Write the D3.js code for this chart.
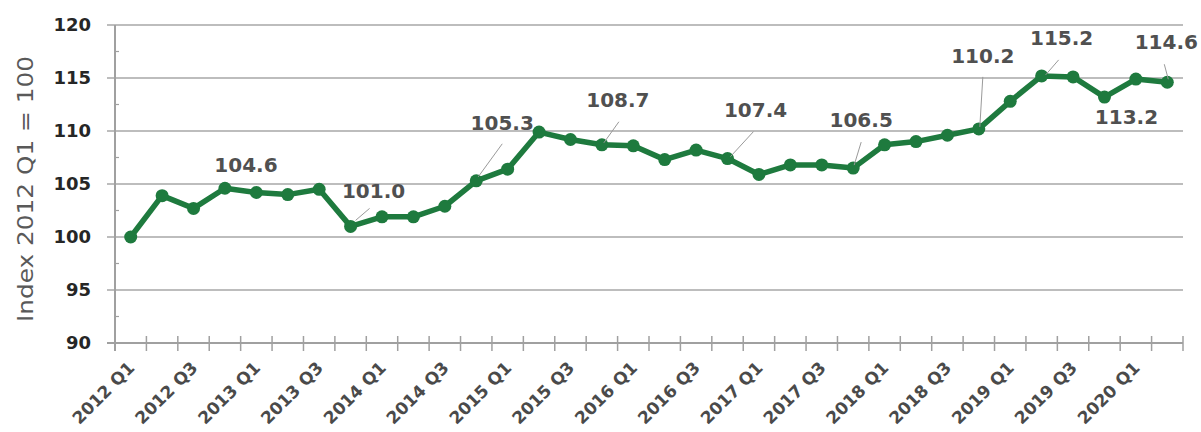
<!DOCTYPE html>
<html>
<head>
<meta charset="utf-8">
<script src="https://cdn.jsdelivr.net/npm/d3@7"></script>
<style>
  html, body { margin: 0; padding: 0; background: #fff; }
  svg { display: block; }
</style>
</head>
<body>
<svg id="chart" width="1201" height="432"></svg>
<script>
// ---- data ----
const categories = [
  "2012 Q1","2012 Q2","2012 Q3","2012 Q4",
  "2013 Q1","2013 Q2","2013 Q3","2013 Q4",
  "2014 Q1","2014 Q2","2014 Q3","2014 Q4",
  "2015 Q1","2015 Q2","2015 Q3","2015 Q4",
  "2016 Q1","2016 Q2","2016 Q3","2016 Q4",
  "2017 Q1","2017 Q2","2017 Q3","2017 Q4",
  "2018 Q1","2018 Q2","2018 Q3","2018 Q4",
  "2019 Q1","2019 Q2","2019 Q3","2019 Q4",
  "2020 Q1","2020 Q2"
];
const values = [
  100.0, 103.9, 102.7, 104.6,
  104.2, 104.0, 104.5, 101.0,
  101.9, 101.9, 102.9, 105.3,
  106.4, 109.9, 109.2, 108.7,
  108.6, 107.3, 108.2, 107.4,
  105.9, 106.8, 106.8, 106.5,
  108.7, 109.0, 109.6, 110.2,
  112.8, 115.2, 115.1, 113.2,
  114.9, 114.6
];
const yTicks = [90, 95, 100, 105, 110, 115, 120];
const xTickLabels = ["2012 Q1","2012 Q3","2013 Q1","2013 Q3","2014 Q1","2014 Q3","2015 Q1","2015 Q3",
  "2016 Q1","2016 Q3","2017 Q1","2017 Q3","2018 Q1","2018 Q3","2019 Q1","2019 Q3","2020 Q1"];
const labelledPoints = ["2012 Q4","2013 Q4","2014 Q4","2015 Q4","2016 Q4","2017 Q4","2018 Q4","2019 Q2","2019 Q4","2020 Q2"];
const yTitle = "Index 2012 Q1 = 100";

// ---- layout (label placement relative to its point) ----
const labelLayout = {
  "2012 Q4": {dx: 21, dy: -23, leader: null},
  "2013 Q4": {dx: 23, dy: -36, leader: [5, -6, 19, -18]},
  "2014 Q4": {dx: 26, dy: -58, leader: [2, -4, 26, -37]},
  "2015 Q4": {dx: 16, dy: -45, leader: [2, -2, 17, -23]},
  "2016 Q4": {dx: 28, dy: -49, leader: [3, -2, 26, -27]},
  "2017 Q4": {dx: 8, dy: -48, leader: [1, -3, 8, -26]},
  "2018 Q4": {dx: 4, dy: -73, leader: [1, -2, 4, -52]},
  "2019 Q2": {dx: 20, dy: -38, leader: [4, -1, 17, -16]},
  "2019 Q4": {dx: 22, dy: 20, leader: null},
  "2020 Q2": {dx: -1, dy: -40, leader: [1, -3, -3, -18]}
};

const svg = d3.select("#chart");
const mLeft = 115, mRight = 1183, mTop = 25, mBottom = 343;

const x = d3.scaleBand().domain(categories).range([mLeft, mRight]).padding(0);
const y = d3.scaleLinear().domain([90, 120]).range([mBottom, mTop]);
const cx = c => x(c) + x.bandwidth() / 2;

const gridColor = "#bdbdbd";
const axisColor = "#a0a0a0";

// gridlines
svg.append("g").selectAll("line")
  .data(yTicks.filter(t => t !== 90))
  .join("line")
  .attr("x1", mLeft - 8).attr("x2", mRight)
  .attr("y1", d => y(d)).attr("y2", d => y(d))
  .attr("stroke", gridColor).attr("stroke-width", 2);

// minor y ticks
const minor = d3.range(92.5, 120, 5);
svg.append("g").selectAll("line")
  .data(minor).join("line")
  .attr("x1", mLeft).attr("x2", mLeft + 4)
  .attr("y1", d => y(d)).attr("y2", d => y(d))
  .attr("stroke", axisColor).attr("stroke-width", 1.2);

// y axis line
svg.append("line")
  .attr("x1", mLeft).attr("x2", mLeft)
  .attr("y1", mTop).attr("y2", mBottom + 8)
  .attr("stroke", axisColor).attr("stroke-width", 2);

// x axis line
svg.append("line")
  .attr("x1", mLeft - 8).attr("x2", mRight)
  .attr("y1", mBottom).attr("y2", mBottom)
  .attr("stroke", axisColor).attr("stroke-width", 2);

// x ticks at band boundaries
const boundaries = categories.map(c => x(c)).concat([mRight]);
svg.append("g").selectAll("line")
  .data(boundaries.slice(1)).join("line")
  .attr("x1", d => d).attr("x2", d => d)
  .attr("y1", mBottom - 7).attr("y2", mBottom + 8)
  .attr("stroke", axisColor).attr("stroke-width", 1.5);

// y tick labels
svg.append("g").selectAll("text")
  .data(yTicks).join("text")
  .attr("x", 91).attr("y", d => y(d))
  .attr("dy", "0.36em")
  .attr("text-anchor", "end")
  .attr("font-family", "DejaVu Sans")
  .attr("font-weight", "bold")
  .attr("font-size", 18)
  .attr("fill", "#262626")
  .text(d => d);

// x tick labels
svg.append("g").selectAll("text")
  .data(xTickLabels).join("text")
  .attr("transform", d => `translate(${cx(d) + 5},${mBottom + 26}) rotate(-45)`)
  .attr("text-anchor", "end")
  .attr("font-family", "DejaVu Sans")
  .attr("font-weight", "bold")
  .attr("font-size", 17)
  .attr("fill", "#4a4a4a")
  .text(d => d);

// y title
svg.append("text")
  .attr("transform", `translate(33,189) rotate(-90)`)
  .attr("text-anchor", "middle")
  .attr("font-family", "DejaVu Sans")
  .attr("font-size", 21)
  .attr("fill", "#595959")
  .attr("textLength", 266)
  .attr("lengthAdjust", "spacingAndGlyphs")
  .text(yTitle);

// line
const lineGen = d3.line().x((d, i) => cx(categories[i])).y(d => y(d));
const green = "#1e7a3e";
svg.append("path")
  .datum(values)
  .attr("d", lineGen)
  .attr("fill", "none")
  .attr("stroke", green)
  .attr("stroke-width", 5.5)
  .attr("stroke-linejoin", "round");

svg.append("g").selectAll("circle")
  .data(values).join("circle")
  .attr("cx", (d, i) => cx(categories[i]))
  .attr("cy", d => y(d))
  .attr("r", 6.5)
  .attr("fill", green);

// data labels and leaders
const lbl = svg.append("g");
labelledPoints.forEach(c => {
  const i = categories.indexOf(c);
  const px = cx(c), py = y(values[i]);
  const L = labelLayout[c];
  if (L.leader) {
    lbl.append("line")
      .attr("x1", px + L.leader[0]).attr("y1", py + L.leader[1])
      .attr("x2", px + L.leader[2]).attr("y2", py + L.leader[3])
      .attr("stroke", "#9a9a9a").attr("stroke-width", 1);
  }
  lbl.append("text")
    .attr("x", px + L.dx).attr("y", py + L.dy)
    .attr("dy", "0.36em")
    .attr("text-anchor", "middle")
    .attr("font-family", "DejaVu Sans")
    .attr("font-weight", "bold")
    .attr("font-size", 20)
    .attr("fill", "#505050")
    .text(values[i].toFixed(1));
});
</script>
</body>
</html>
